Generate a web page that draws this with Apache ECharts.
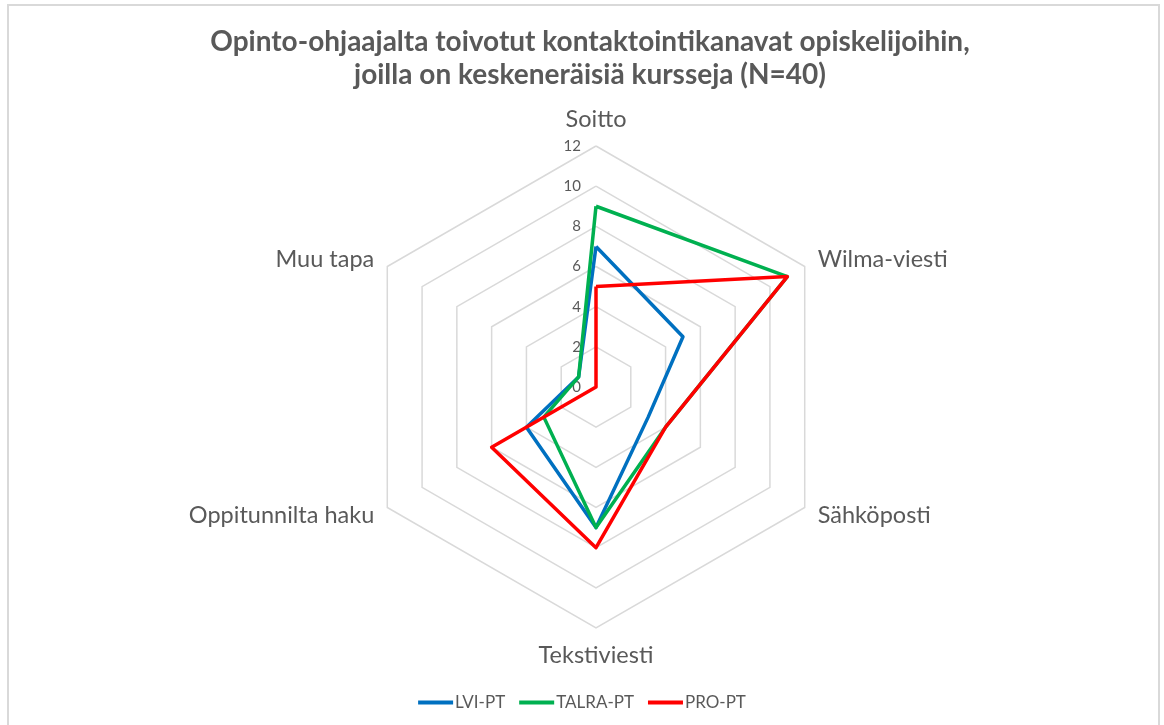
<!DOCTYPE html>
<html>
<head>
<meta charset="utf-8">
<script src="https://cdn.jsdelivr.net/npm/echarts@6/dist/echarts.min.js"></script>
<style>
html,body{margin:0;padding:0;background:#fff;}
#chart{width:1164px;height:725px;}
</style>
</head>
<body>
<div id="chart"></div>
<script>
const titleText = 'Opinto-ohjaajalta toivotut kontaktointikanavat opiskelijoihin,\njoilla on keskeneräisiä kursseja (N=40)';
const categories = ['Soitto', 'Wilma-viesti', 'Sähköposti', 'Tekstiviesti', 'Oppitunnilta haku', 'Muu tapa'];
const seriesNames = ['LVI-PT', 'TALRA-PT', 'PRO-PT'];
const lviValues   = [7, 5, 3, 7, 4, 1];
const talraValues = [9, 11, 4, 7, 3, 1];
const proValues   = [5, 11, 4, 8, 6, 0];
const axisMin = 0;
const axisMax = 12;
const axisInterval = 2;
const colors = ['#0070C0', '#00B050', '#FF0000'];

const seriesValues = [lviValues, talraValues, proValues];
// ECharts radar runs counter-clockwise; reorder so categories run clockwise like the original
const order = [0].concat(categories.slice(1).map((_, i) => categories.length - 1 - i));
const reorder = arr => order.map(k => arr[k]);

const textColor = '#595959';
const fontFam = 'Lato, "Open Sans", sans-serif';
const center = [596, 387];
const radius = 241;

const chart = echarts.init(document.getElementById('chart'), null, {renderer: 'canvas'});
chart.setOption({
  backgroundColor: '#fff',
  animation: false,
  graphic: [{
    type: 'rect', silent: true, z: -10,
    shape: {x: 8, y: 5, width: 1151, height: 740},
    style: {fill: 'none', stroke: '#d9d9d9', lineWidth: 2}
  }],
  title: {
    text: titleText,
    left: 585, top: 20, textAlign: 'center',
    textStyle: {fontFamily: fontFam, fontWeight: 'bold', fontSize: 28, color: textColor, lineHeight: 33}
  },
  legend: {
    bottom: 9, left: 'center',
    data: seriesNames,
    icon: 'rect', itemWidth: 35, itemHeight: 4, itemGap: 14,
    textStyle: {fontFamily: fontFam, fontSize: 17, color: textColor, padding: [0, 0, 0, -3]}
  },
  radar: {
    center: center, radius: radius, startAngle: 90,
    shape: 'polygon', splitNumber: (axisMax - axisMin) / axisInterval,
    indicator: reorder(categories).map(n => ({name: n, min: axisMin, max: axisMax})),
    nameGap: 15,
    axisName: {fontFamily: fontFam, fontSize: 23.5, color: textColor},
    axisLine: {show: false},
    axisTick: {show: false},
    axisLabel: {show: false},
    splitLine: {lineStyle: {color: '#d9d9d9', width: 1.5}},
    splitArea: {show: false}
  },
  polar: {center: center, radius: radius},
  angleAxis: {show: false, startAngle: 90, min: 0, max: 360},
  radiusAxis: {
    min: axisMin, max: axisMax, interval: axisInterval,
    axisLine: {show: false}, axisTick: {show: false}, splitLine: {show: false},
    axisLabel: {fontFamily: fontFam, fontSize: 15, color: textColor, margin: 15}
  },
  series: [{
    type: 'radar',
    symbol: 'none',
    data: seriesNames.map((n, i) => ({
      name: n, value: reorder(seriesValues[i]),
      lineStyle: {color: colors[i], width: 3.5},
      itemStyle: {color: colors[i]}
    }))
  }]
});
</script>
</body>
</html>
